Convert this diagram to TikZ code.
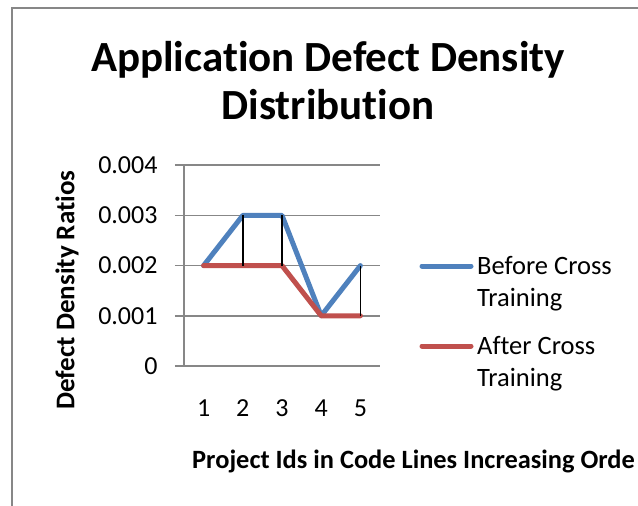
\documentclass[tikz,border=0pt]{standalone}
\usepackage{fontspec}
\setmainfont{Carlito}[Ligatures=NoCommon]
\usepackage{xcolor}
\definecolor{seriesblue}{HTML}{4F81BD}
\definecolor{seriesred}{HTML}{C0504D}
\definecolor{gridgray}{HTML}{878787}
\tikzset{
  gridline/.style={gridgray, line width=1.5pt},
  framestyle/.style={gridgray, line width=2pt},
  seriesline/.style={line width=5pt, line cap=round, line join=round},
  dropline/.style={black, line width=1.5pt},
  ticklabel/.style={font=\fontsize{26}{30}\selectfont, inner sep=0pt},
  legendtext/.style={font=\fontsize{26.5}{32}\selectfont, inner sep=0pt, align=left},
  axistitle/.style={font=\bfseries\fontsize{27}{31}\selectfont, inner sep=0pt},
  charttitle/.style={font=\bfseries\fontsize{43}{48}\selectfont, inner sep=0pt, align=center}
}

\begin{document}
\begin{tikzpicture}[x=1pt, y=-1pt]
\useasboundingbox (0,0) rectangle (638,506);
\clip (0,0) rectangle (638,506);
\draw[framestyle] (12,8) rectangle (680,540);
\node[charttitle] (title) at (328,81) {Application Defect Density\\Distribution};
\node[axistitle, rotate=90] (ytitle) at (67,290) {Defect Density Ratios};
\node[axistitle, font=\bfseries\fontsize{26.4}{31}\selectfont, anchor=base west] (xtitle) at (192,468) {Project Ids in Code Lines Increasing Orde};
% plot area, one unit = one project / 0.001
\begin{scope}[shift={(184,366)}, x=39.2pt, y=50.2pt]
\foreach \v/\t in {0/0,1/0.001,2/0.002,3/0.003,4/0.004} {
  \draw[gridline] (-0.23,\v) -- (5,\v);
  \node[ticklabel, anchor=east] (ylab\v) at (-0.67,\v) {\t};
}
\draw[gridline] (0,0) -- (0,4);
\foreach \i in {1,...,5}
  \node[ticklabel] (xlab\i) at (\i-0.5,-0.84) {\i};
\foreach \i/\b/\a in {1/2/2,2/3/2,3/3/2,4/1/1,5/2/1} {
  \coordinate (b\i) at (\i-0.5,\b);
  \coordinate (a\i) at (\i-0.5,\a);
}
\draw[seriesline, seriesblue] (b1) -- (b2) -- (b3) -- (b4) -- (b5);
\draw[seriesline, seriesred] (a1) -- (a2) -- (a3) -- (a4) -- (a5);
\foreach \i in {2,3,5}
  \draw[dropline] (b\i) -- (a\i);
\end{scope}
% legend
\coordinate (keyb) at (422,266);
\coordinate (keya) at (422,346);
\draw[seriesline, seriesblue] (keyb) -- ++(49,0);
\draw[seriesline, seriesred] (keya) -- ++(49,0);
\node[legendtext, anchor=north west] (legbefore) at (477,256) {Before Cross\\Training};
\node[legendtext, anchor=north west] (legafter) at (477,336) {After Cross\\Training};
\end{tikzpicture}
\end{document}
